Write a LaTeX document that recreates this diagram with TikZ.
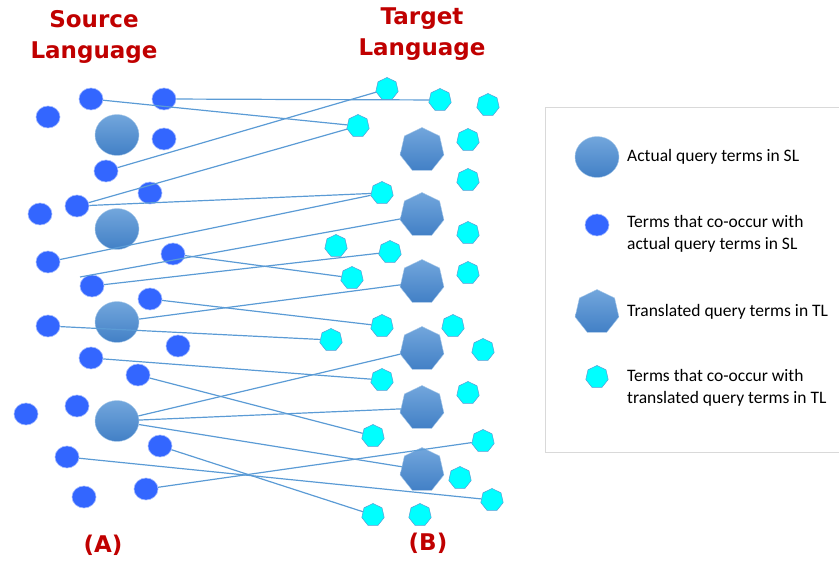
\documentclass[tikz,border=0pt]{standalone}
\usepackage{fontspec}
\setmainfont{Carlito}
\newfontfamily\titlefont{DejaVu Sans}
\usetikzlibrary{shapes.geometric}
\definecolor{termblue}{RGB}{51,102,255}
\definecolor{termcyan}{RGB}{0,255,255}
\definecolor{linkblue}{RGB}{91,155,213}
\definecolor{topblue}{RGB}{114,166,220}
\definecolor{botblue}{RGB}{66,128,198}
\definecolor{titlered}{RGB}{192,0,0}
\tikzset{x=1pt, y=-1pt,
  co term/.style={ellipse, fill=termblue, draw=termblue!45, line width=0.6pt,
        minimum width=24pt, minimum height=22pt, inner sep=0pt},
  query term/.style={ellipse, top color=topblue, bottom color=botblue,
        draw=topblue!60, line width=0.4pt,
        minimum width=44pt, minimum height=41pt, inner sep=0pt},
  trans term/.style={regular polygon, regular polygon sides=7,
        top color=topblue, bottom color=botblue, draw=topblue!60,
        line width=0.4pt, minimum size=45pt, inner sep=0pt},
  tl term/.style={regular polygon, regular polygon sides=7, fill=termcyan,
        draw=linkblue, line width=0.5pt, minimum size=23pt, inner sep=0pt},
  link/.style={draw=linkblue, line width=1.2pt},
  side title/.style={font=\titlefont\bfseries\fontsize{23}{31}\selectfont,
        text=titlered, align=center},
  legend text/.style={right, inner sep=0pt, align=left,
        font=\fontsize{17.5}{22}\selectfont}
}
\def\LegendEntry#1#2#3#4#5{%
  \node[#2] (#1 key) at (597,#3) {};
  \node[legend text] (#1 text) at (627,#4) {#5};
}

\begin{document}
\begin{tikzpicture}
\useasboundingbox (0,0) rectangle (839,561);

\node[side title] (sl title) at (94,37) {Source\\Language};
\node[side title] (tl title) at (422,34) {Target\\Language};
\node[side title] (sl mark) at (103,545) {(A)};
\node[side title] (tl mark) at (428,543) {(B)};

% source language side
\foreach \n/\x/\y in {1/117/135, 2/117/229, 3/117/322, 4/117/421}
  \node[query term] (q\n) at (\x,\y) {};
\foreach \n/\x/\y in {1/48/117, 2/91/99, 3/164/99, 4/164/139, 5/106/171,
    6/150/193, 7/40/214, 8/77/206, 9/48/262, 10/173/254, 11/92/286,
    12/150/299, 13/48/326, 14/178/346, 15/91/358, 16/138/375, 17/26/414,
    18/77/406, 19/160/446, 20/67/457, 21/146/489, 22/84/497}
  \node[co term] (s\n) at (\x,\y) {};

% target language side
\foreach \n/\y in {1/150, 2/215, 3/282, 4/349, 5/408, 6/470}
  \node[trans term] (h\n) at (422,\y) {};
\foreach \n/\x/\y in {1/387/89, 2/440/100, 3/488/105, 4/358/126, 5/468/140,
    6/468/180, 7/382/193, 8/468/233, 9/336/246, 10/390/252, 11/352/278,
    12/468/273, 13/382/326, 14/453/326, 15/331/340, 16/483/350, 17/382/380,
    18/468/393, 19/373/436, 20/483/441, 21/460/478, 22/492/500, 23/373/515,
    24/420/515}
  \node[tl term] (t\n) at (\x,\y) {};

\coordinate (loose) at (80,277);

\foreach \a/\b in {s3/t2, s2/t4, s5/t1, s8/t4, s8/t7, s9/t7, loose/h2,
    s11/t10, s10/t11, q3/h3, s12/t13, s13/t15, s15/t17, q4/h4, s16/t19,
    q4/h5, q4/h6, s19/t23, s20/t22, s21/t20}
  \draw[link] (\a) -- (\b);

% legend
\draw[draw=black!15, line width=0.8pt] (545,107) rectangle (843,452);
\LegendEntry{actual}{query term}{157}{157}{Actual query terms in SL}
\LegendEntry{cosl}{co term}{225}{234}{Terms that co-occur with\\actual query terms in SL}
\LegendEntry{trans}{trans term}{312}{312}{Translated query terms in TL}
\LegendEntry{cotl}{tl term}{377}{388}{Terms that co-occur with\\translated query terms in TL}
\end{tikzpicture}
\end{document}
